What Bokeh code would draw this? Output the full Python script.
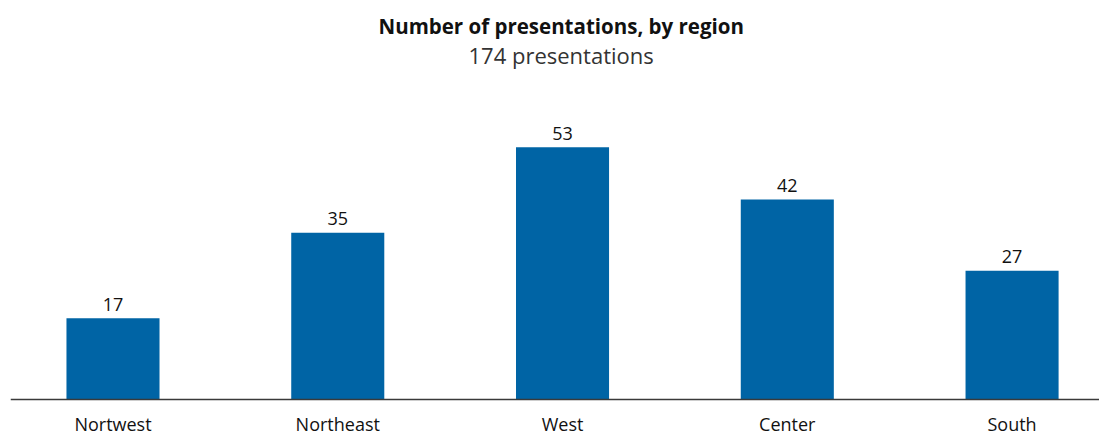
from bokeh.plotting import figure
from bokeh.models import ColumnDataSource, Range1d, FixedTicker, Title
from bokeh.core.properties import value
from bokeh.embed import file_html
from bokeh.resources import INLINE

regions = ["Nortwest", "Northeast", "West", "Center", "South"]
counts = [17, 35, 53, 42, 27]
title_text = "Number of presentations, by region"
subtitle_text = "174 presentations"

FONT = "Open Sans"
BAR_COLOR = "#0064A5"

idx = list(range(len(regions)))
source = ColumnDataSource(dict(x=idx, top=counts, label=[str(c) for c in counts]))

p = figure(width=1099, height=437, output_backend="svg", toolbar_location=None,
           x_range=Range1d(-0.456, 4.389), y_range=Range1d(-8.1, 71.45),
           y_axis_location=None, min_border_left=10, min_border_right=0,
           min_border_bottom=0, min_border_top=0)

p.add_layout(Title(text=subtitle_text, align="left", offset=458, text_font=FONT,
                   text_font_size="22px", text_font_style="normal",
                   text_color="#333333", standoff=-21.5), "above")
p.add_layout(Title(text=title_text, align="left", offset=368, text_font=FONT,
                   text_font_size="20.5px", text_font_style="bold",
                   text_color="#111111", standoff=17.5), "above")

p.vbar(x="x", top="top", bottom=0, width=0.414, source=source,
       fill_color=BAR_COLOR, line_color=None)
p.text(x="x", y="top", text="label", source=source, text_align="center",
       text_baseline="alphabetic", y_offset=-14, text_font=value(FONT),
       text_font_size="18px", text_color="#111111")

ax = p.xaxis[0]
ax.fixed_location = 0
ax.ticker = FixedTicker(ticks=idx)
ax.major_label_overrides = {i: r for i, r in zip(idx, regions)}
ax.major_tick_line_color = None
ax.minor_tick_line_color = None
ax.major_tick_out = 0
ax.major_tick_in = 0
ax.axis_line_color = "#3a3a3a"
ax.axis_line_width = 1.5
ax.major_label_standoff = 13
ax.major_label_text_font = FONT
ax.major_label_text_font_size = "18px"
ax.major_label_text_color = "#111111"

p.xgrid.visible = False
p.ygrid.visible = False
p.outline_line_color = None
p.background_fill_color = "white"
p.border_fill_color = "white"

open("out.html", "w").write(file_html(p, INLINE))
